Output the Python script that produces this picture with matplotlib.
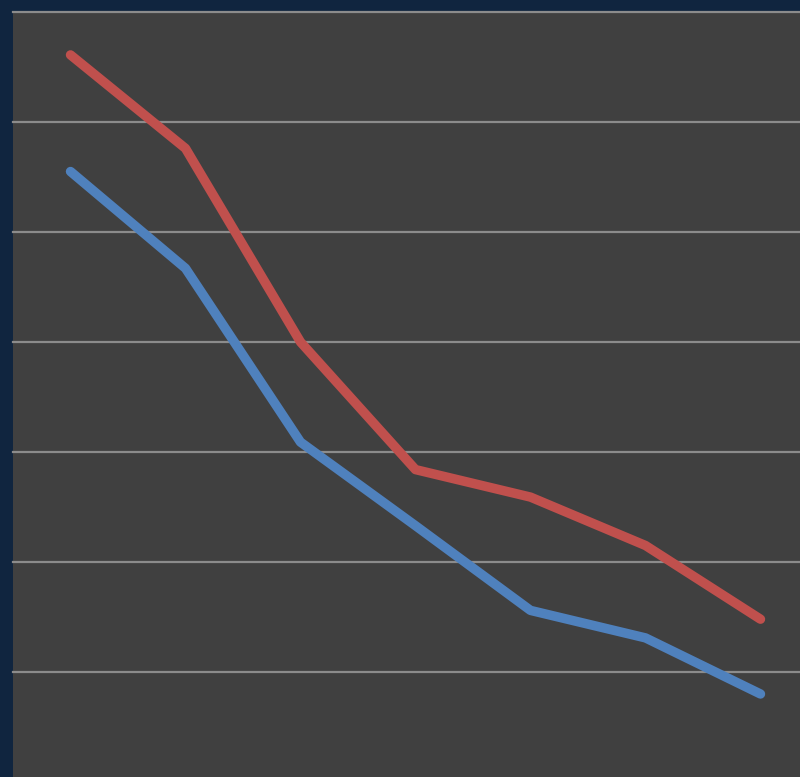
import matplotlib
matplotlib.use("Agg")
import matplotlib.pyplot as plt

categories = [1, 2, 3, 4, 5, 6, 7]
series_red = [6.61, 5.76, 4.00, 2.84, 2.59, 2.15, 1.48]
series_blue = [5.55, 4.67, 3.09, 2.33, 1.56, 1.31, 0.80]
grid_levels = [1, 2, 3, 4, 5, 6, 7]

fig = plt.figure(figsize=(8, 7.77), dpi=100)
fig.patch.set_facecolor("#10253f")

# plot area runs off the right and bottom edges, like the source crop
ax = fig.add_axes([13 / 800, 0, 805 / 800, 765 / 777])
ax.set_facecolor("#404040")

for g in grid_levels:
    ax.axhline(g, color="#8c8c8c", lw=1.6, zorder=1, clip_on=False)

x = list(range(len(categories)))
ax.plot(x, series_red, color="#c0504d", lw=6.8, solid_capstyle="round",
        solid_joinstyle="round", zorder=3)
ax.plot(x, series_blue, color="#4f81bd", lw=6.8, solid_capstyle="round",
        solid_joinstyle="round", zorder=3)

ax.set_xlim(-0.5, 6.5)
ax.set_ylim(7 - 765 / 110, 7)
ax.set_xticks([])
ax.set_yticks([])
for s in ax.spines.values():
    s.set_visible(False)

fig.savefig("out.png", dpi=100, facecolor=fig.get_facecolor())
